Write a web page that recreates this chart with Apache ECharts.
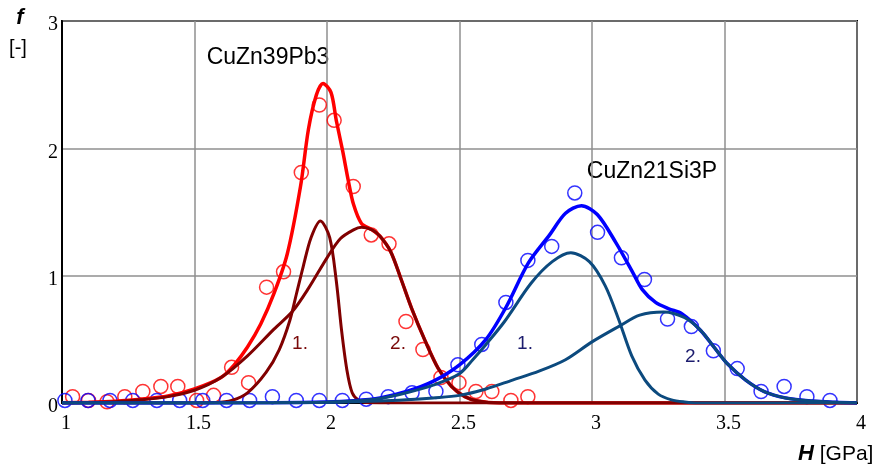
<!DOCTYPE html>
<html>
<head>
<meta charset="utf-8">
<script src="https://cdn.jsdelivr.net/npm/echarts@6/dist/echarts.min.js"></script>
<style>
  html, body { margin: 0; padding: 0; background: #fff; }
  #chart { width: 880px; height: 470px; }
</style>
</head>
<body>
<div id="chart"></div>
<script>
// measured points, CuZn39Pb3 (red) and CuZn21Si3P (blue)
const redPtsX = [1.04, 1.10, 1.17, 1.237, 1.305, 1.373, 1.437, 1.508, 1.572, 1.64, 1.704, 1.772, 1.836, 1.903, 1.971, 2.027, 2.099, 2.167, 2.234, 2.298, 2.362, 2.43, 2.498, 2.562, 2.622, 2.694, 2.758];
const redPtsY = [0.05, 0.02, 0.01, 0.05, 0.09, 0.13, 0.13, 0.02, 0.06, 0.28, 0.16, 0.91, 1.03, 1.81, 2.34, 2.22, 1.70, 1.32, 1.25, 0.64, 0.42, 0.20, 0.16, 0.09, 0.09, 0.02, 0.05];
const bluePtsX = [1.011, 1.098, 1.181, 1.267, 1.358, 1.444, 1.531, 1.621, 1.708, 1.794, 1.884, 1.971, 2.058, 2.148, 2.231, 2.321, 2.411, 2.494, 2.584, 2.675, 2.758, 2.848, 2.935, 3.021, 3.111, 3.198, 3.285, 3.375, 3.458, 3.548, 3.638, 3.725, 3.811, 3.898];
const bluePtsY = [0.02, 0.02, 0.02, 0.02, 0.02, 0.02, 0.02, 0.02, 0.02, 0.05, 0.02, 0.02, 0.02, 0.03, 0.05, 0.08, 0.09, 0.30, 0.46, 0.79, 1.12, 1.23, 1.65, 1.34, 1.14, 0.97, 0.66, 0.60, 0.41, 0.27, 0.09, 0.13, 0.05, 0.02];

// fitted curves
const redFitX = [1.0, 1.1, 1.2, 1.3, 1.4, 1.5, 1.6, 1.65, 1.7, 1.75, 1.8, 1.85, 1.9, 1.93, 1.96, 1.985, 2.015, 2.035, 2.06, 2.08, 2.1, 2.13, 2.17, 2.2, 2.24, 2.28, 2.32, 2.37, 2.42, 2.47, 2.52, 2.57, 2.65, 4.0];
const redFitY = [0.002, 0.006, 0.014, 0.03, 0.055, 0.11, 0.2, 0.3, 0.44, 0.62, 0.86, 1.17, 1.70, 2.15, 2.42, 2.51, 2.44, 2.22, 1.97, 1.75, 1.56, 1.41, 1.36, 1.31, 1.19, 0.97, 0.74, 0.49, 0.27, 0.13, 0.05, 0.015, 0, 0];
const red1X = [1.0, 1.5, 1.58, 1.64, 1.7, 1.77, 1.82, 1.86, 1.885, 1.91, 1.94, 1.975, 2.01, 2.035, 2.055, 2.075, 2.095, 2.12, 2.15, 2.2, 4.0];
const red1Y = [0, 0, 0.003, 0.02, 0.08, 0.24, 0.42, 0.65, 0.86, 1.07, 1.30, 1.43, 1.30, 0.96, 0.57, 0.26, 0.08, 0.02, 0.003, 0, 0];
const red2X = [1.0, 1.1, 1.2, 1.3, 1.4, 1.5, 1.6, 1.7, 1.8, 1.87, 1.93, 2.0, 2.05, 2.1, 2.13, 2.17, 2.2, 2.24, 2.28, 2.32, 2.37, 2.42, 2.47, 2.52, 2.57, 2.65, 4.0];
const red2Y = [0.001, 0.004, 0.01, 0.025, 0.05, 0.1, 0.2, 0.37, 0.58, 0.72, 0.9, 1.14, 1.29, 1.36, 1.38, 1.36, 1.31, 1.19, 0.97, 0.74, 0.49, 0.27, 0.13, 0.05, 0.015, 0, 0];
const blueFitX = [1.0, 1.8, 2.0, 2.1, 2.2, 2.3, 2.4, 2.5, 2.6, 2.675, 2.76, 2.84, 2.9, 2.96, 3.02, 3.09, 3.15, 3.19, 3.24, 3.29, 3.34, 3.41, 3.46, 3.51, 3.58, 3.65, 3.73, 3.83, 3.92, 4.0];
const blueFitY = [0, 0.002, 0.008, 0.018, 0.04, 0.09, 0.17, 0.30, 0.50, 0.75, 1.10, 1.32, 1.49, 1.55, 1.48, 1.26, 1.04, 0.89, 0.79, 0.74, 0.70, 0.57, 0.44, 0.31, 0.18, 0.09, 0.04, 0.015, 0.005, 0];
const blue1X = [1.0, 1.8, 2.0, 2.1, 2.2, 2.3, 2.4, 2.5, 2.55, 2.6, 2.67, 2.77, 2.85, 2.92, 2.99, 3.05, 3.1, 3.15, 3.2, 3.25, 3.3, 3.35, 3.4, 4.0];
const blue1Y = [0, 0.002, 0.006, 0.015, 0.035, 0.08, 0.14, 0.23, 0.34, 0.46, 0.64, 0.94, 1.11, 1.18, 1.11, 0.92, 0.66, 0.37, 0.18, 0.07, 0.025, 0.008, 0, 0];
const blue2X = [1.0, 1.8, 2.0, 2.2, 2.3, 2.4, 2.5, 2.6, 2.7, 2.8, 2.9, 3.0, 3.1, 3.18, 3.27, 3.35, 3.41, 3.46, 3.51, 3.58, 3.65, 3.73, 3.83, 3.92, 4.0];
const blue2Y = [0, 0.002, 0.006, 0.015, 0.025, 0.04, 0.06, 0.11, 0.18, 0.25, 0.34, 0.48, 0.60, 0.69, 0.715, 0.67, 0.57, 0.44, 0.31, 0.18, 0.09, 0.04, 0.015, 0.005, 0];

const zip = (xs, ys) => xs.map((x, i) => [x, ys[i]]);

const chart = echarts.init(document.getElementById('chart'), null, { renderer: 'canvas' });

function curve(xs, ys, color, width) {
  return { type: 'line', data: zip(xs, ys), showSymbol: false, smooth: 0.3,
    lineStyle: { color: color, width: width }, silent: true };
}
function pts(xs, ys, color) {
  return { type: 'scatter', data: zip(xs, ys), symbol: 'circle', symbolSize: 14,
    itemStyle: { color: 'rgba(0,0,0,0)', borderColor: color, borderWidth: 1.5 }, silent: true };
}

const serif = '"Liberation Serif", "Times New Roman", serif';
const sans = '"Liberation Sans", Arial, sans-serif';

chart.setOption({
  animation: false,
  grid: { left: 62, right: 23, top: 21, bottom: 67, show: true, borderColor: '#000', borderWidth: 2, backgroundColor: '#fff' },
  xAxis: {
    type: 'value', min: 1, max: 4, interval: 0.5,
    axisLine: { show: true, lineStyle: { color: '#000', width: 2 } },
    axisTick: { show: false },
    axisLabel: { color: '#000', fontFamily: serif, fontSize: 20, margin: 11, padding: [0, 0, 0, 8] },
    splitLine: { show: true, lineStyle: { color: '#8f8f8f', width: 1.5 } },
  },
  yAxis: {
    type: 'value', min: 0, max: 3, interval: 1,
    axisLine: { show: true, lineStyle: { color: '#000', width: 2 } },
    axisTick: { show: false },
    axisLabel: { color: '#000', fontFamily: serif, fontSize: 20, margin: 4, verticalAlign: 'top', lineHeight: 8 },
    splitLine: { show: true, lineStyle: { color: '#8f8f8f', width: 1.5 } },
  },
  series: [
    pts(redPtsX, redPtsY, '#ff0000'),
    pts(bluePtsX, bluePtsY, '#0000ff'),
    curve(redFitX, redFitY, '#ff0000', 3.5),
    curve(red1X, red1Y, '#800000', 3),
    curve(red2X, red2Y, '#800000', 3),
    curve(blueFitX, blueFitY, '#0000ff', 3.5),
    curve(blue1X, blue1Y, '#0c4a7e', 3),
    curve(blue2X, blue2Y, '#0c4a7e', 3),
  ],
  graphic: [
    { type: 'text', x: 20, y: 18, style: { text: 'f', font: 'italic bold 22px ' + sans, fill: '#000', align: 'center', verticalAlign: 'middle' } },
    { type: 'text', x: 18, y: 48, style: { text: '[-]', font: '20px ' + sans, fill: '#000', align: 'center', verticalAlign: 'middle' } },
    { type: 'text', x: 798, y: 454, style: { text: '{b|H} [GPa]', font: '21px ' + sans, fill: '#000', verticalAlign: 'middle',
        rich: { b: { fontStyle: 'italic', fontWeight: 'bold', fontSize: 22, fontFamily: sans } } } },
    { type: 'text', x: 268, y: 58, style: { text: 'CuZn39Pb3', font: '23px ' + sans, fill: '#000', align: 'center', verticalAlign: 'middle' } },
    { type: 'text', x: 652, y: 172, style: { text: 'CuZn21Si3P', font: '23px ' + sans, fill: '#000', align: 'center', verticalAlign: 'middle' } },
    { type: 'text', x: 300, y: 344, style: { text: '1.', font: '19px ' + sans, fill: '#7a0a0a', align: 'center', verticalAlign: 'middle' } },
    { type: 'text', x: 398, y: 344, style: { text: '2.', font: '19px ' + sans, fill: '#7a0a0a', align: 'center', verticalAlign: 'middle' } },
    { type: 'text', x: 525, y: 344, style: { text: '1.', font: '19px ' + sans, fill: '#1c1c6e', align: 'center', verticalAlign: 'middle' } },
    { type: 'text', x: 693, y: 357, style: { text: '2.', font: '19px ' + sans, fill: '#1c1c6e', align: 'center', verticalAlign: 'middle' } },
  ],
});
</script>
</body>
</html>
